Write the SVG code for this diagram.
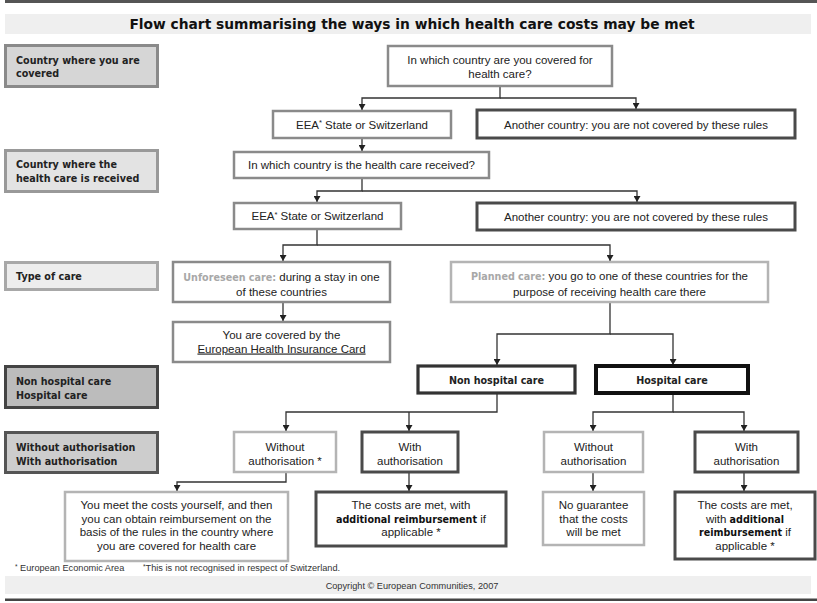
<svg xmlns="http://www.w3.org/2000/svg" width="817" height="603" viewBox="0 0 817 603">
<style>
.t{font-family:"Liberation Sans",Arial,sans-serif;font-size:11.5px;fill:#222;text-anchor:middle}
.b{font-family:"DejaVu Sans",Verdana,sans-serif;font-weight:bold;font-size:9.6px;fill:#222}
.bc{text-anchor:middle}
.bb{font-family:"DejaVu Sans",Verdana,sans-serif;font-weight:bold;font-size:9.6px}
.mid{fill:#fff;stroke:#8a8a8a;stroke-width:2.5}
.dark{fill:#fff;stroke:#4a4a4a;stroke-width:3}
.light{fill:#fff;stroke:#b4b4b4;stroke-width:2.5}
.lab{stroke-width:3}
.conn{fill:none;stroke:#333;stroke-width:1.3;marker-end:url(#ah)}
.fn{font-family:"Liberation Sans",Arial,sans-serif;font-size:9.2px;fill:#333}
.gr{fill:#a8a8a8}
</style>
<defs>
<marker id="ah" markerUnits="userSpaceOnUse" markerWidth="7" markerHeight="7" refX="6" refY="3.5" orient="auto">
<path d="M0,0 L6,3.5 L0,7 z" fill="#222"/>
</marker>
</defs>
<rect width="817" height="603" fill="#fff"/>
<rect x="5" y="0" width="812" height="3" fill="#555"/>
<rect x="5" y="14" width="806" height="20" fill="#efefef"/>
<text x="412" y="29" font-family="DejaVu Sans,Verdana,sans-serif" font-weight="bold" font-size="13.8" fill="#111" text-anchor="middle">Flow chart summarising the ways in which health care costs may be met</text>

<g id="label-covered"><rect class="lab" x="5.5" y="45.5" width="152" height="41" fill="#d6d6d6" stroke="#8a8a8a"/><text class="b" x="16" y="63.5">Country where you are</text><text class="b" x="16" y="77">covered</text></g>
<g id="label-received"><rect class="lab" x="5.5" y="150.5" width="152" height="41" fill="#e3e3e3" stroke="#999"/><text class="b" x="16" y="167.5">Country where the</text><text class="b" x="16" y="182">health care is received</text></g>
<g id="label-type"><rect class="lab" x="5.5" y="262.5" width="152" height="27" fill="#ededed" stroke="#a8a8a8"/><text class="b" x="16" y="279.5">Type of care</text></g>
<g id="label-hosp"><rect class="lab" x="5.5" y="366.5" width="152" height="41" fill="#bcbcbc" stroke="#444"/><text class="b" x="16" y="385">Non hospital care</text><text class="b" x="16" y="399">Hospital care</text></g>
<g id="label-auth"><rect class="lab" x="5.5" y="432.5" width="152" height="40" fill="#cdcdcd" stroke="#555"/><text class="b" x="16" y="450.5">Without authorisation</text><text class="b" x="16" y="464.5">With authorisation</text></g>

<g id="connectors">
<path class="conn" d="M500,86 V98 H362 V110"/>
<path class="conn" d="M500,98 H636 V109"/>
<path class="conn" d="M362,138 V151"/>
<path class="conn" d="M362,178 V191 H317 V202"/>
<path class="conn" d="M362,191 H637 V202"/>
<path class="conn" d="M317,229 V245 H283 V261"/>
<path class="conn" d="M317,245 H610 V261"/>
<path class="conn" d="M283,302 V321"/>
<path class="conn" d="M610,302 V334 H497 V365"/>
<path class="conn" d="M610,334 H673 V365"/>
<path class="conn" d="M497,393 V412 H286 V431"/>
<path class="conn" d="M409,412 V431"/>
<path class="conn" d="M673,393 V412 H593 V431"/>
<path class="conn" d="M673,412 H744 V431"/>
<path class="conn" d="M286,472 V482 H177 V491"/>
<path class="conn" d="M409,472 V491"/>
<path class="conn" d="M593,472 V491"/>
<path class="conn" d="M744,472 V491"/>
</g>

<g id="q1"><rect class="mid" x="388" y="46" width="224" height="40"/><text class="t" x="500" y="64">In which country are you covered for</text><text class="t" x="500" y="78">health care?</text></g>
<g id="eea1"><rect class="mid" x="273" y="111" width="178" height="27"/><text class="t" x="362" y="128.5">EEA<tspan font-size="7.5" dy="-3.5">*</tspan><tspan dy="3.5"> State or Switzerland</tspan></text></g>
<g id="another1"><rect class="dark" x="477" y="110" width="318" height="28"/><text class="t" x="636" y="128.5">Another country: you are not covered by these rules</text></g>
<g id="q2"><rect class="mid" x="234" y="152" width="255" height="26"/><text class="t" x="361.5" y="169">In which country is the health care received?</text></g>
<g id="eea2"><rect class="mid" x="234" y="203" width="167" height="26"/><text class="t" x="317.5" y="220">EEA<tspan font-size="7.5" dy="-3.5">*</tspan><tspan dy="3.5"> State or Switzerland</tspan></text></g>
<g id="another2"><rect class="dark" x="477" y="203" width="318" height="27"/><text class="t" x="636" y="220.5">Another country: you are not covered by these rules</text></g>

<g id="unforeseen"><rect class="mid" x="173" y="262" width="217" height="40" stroke="#999"/><text class="t" x="281.5" y="280.5"><tspan class="bb gr">Unforeseen care:</tspan> during a stay in one</text><text class="t" x="281.5" y="295.5">of these countries</text></g>
<g id="ehic"><rect class="mid" x="173" y="322" width="217" height="40" stroke="#999"/><text class="t" x="281.5" y="338.5">You are covered by the</text><text class="t" x="281.5" y="352.5" fill="#8a8a8a" text-decoration="underline">European Health Insurance Card</text></g>
<g id="planned"><rect class="light" x="451" y="262" width="317" height="40" stroke="#cfcfcf"/><text class="t" x="609.5" y="280"><tspan class="bb gr" fill="#b0b0b0">Planned care:</tspan> you go to one of these countries for the</text><text class="t" x="609.5" y="295.5">purpose of receiving health care there</text></g>

<g id="nonhosp"><rect x="418" y="366" width="157" height="27" fill="#fff" stroke="#333" stroke-width="3.2"/><text class="b bc" x="496.5" y="384">Non hospital care</text></g>
<g id="hosp"><rect x="596" y="366" width="152" height="27" fill="#fff" stroke="#111" stroke-width="4"/><text class="b bc" x="672" y="384">Hospital care</text></g>

<g id="without1"><rect class="light" x="234" y="432" width="102" height="40"/><text class="t" x="285" y="450.5">Without</text><text class="t" x="285" y="464.5">authorisation *</text></g>
<g id="with1"><rect class="dark" x="362" y="432" width="96" height="40"/><text class="t" x="410" y="450.5">With</text><text class="t" x="410" y="464.5">authorisation</text></g>
<g id="without2"><rect class="light" x="544" y="432" width="99" height="40"/><text class="t" x="593.5" y="450.5">Without</text><text class="t" x="593.5" y="464.5">authorisation</text></g>
<g id="with2"><rect class="dark" x="695" y="432" width="103" height="40"/><text class="t" x="746.5" y="450.5">With</text><text class="t" x="746.5" y="464.5">authorisation</text></g>

<g id="youmeet"><rect class="light" x="65" y="492" width="223" height="69"/><text class="t" x="176.5" y="509">You meet the costs yourself, and then</text><text class="t" x="176.5" y="522.5">you can obtain reimbursement on the</text><text class="t" x="176.5" y="536">basis of the rules in the country where</text><text class="t" x="176.5" y="549.5">you are covered for health care</text></g>
<g id="costs1"><rect class="dark" x="316" y="492" width="190" height="54"/><text class="t" x="411" y="509">The costs are met, with</text><text class="t" x="411" y="522.5"><tspan class="bb" fill="#111">additional reimbursement</tspan> if</text><text class="t" x="411" y="536">applicable *</text></g>
<g id="noguarantee"><rect class="light" x="543" y="492" width="101" height="53"/><text class="t" x="593.5" y="509">No guarantee</text><text class="t" x="593.5" y="522.5">that the costs</text><text class="t" x="593.5" y="536">will be met</text></g>
<g id="costs2"><rect class="dark" x="675" y="492" width="140" height="67"/><text class="t" x="745" y="509">The costs are met,</text><text class="t" x="745" y="522.5">with <tspan class="bb" fill="#111">additional</tspan></text><text class="t" x="745" y="536"><tspan class="bb" fill="#111">reimbursement</tspan> if</text><text class="t" x="745" y="549.5">applicable *</text></g>

<text class="fn" x="15" y="571"><tspan font-size="6.5" dy="-2.5">*</tspan><tspan dy="2.5"> European Economic Area</tspan></text>
<text class="fn" x="143" y="571"><tspan font-size="6.5" dy="-2.5">*</tspan><tspan dy="2.5">This is not recognised in respect of Switzerland.</tspan></text>
<rect x="5" y="576" width="806" height="18" fill="#efefef"/>
<text class="fn" x="412" y="589" text-anchor="middle">Copyright © European Communities, 2007</text>
<rect x="5" y="598.5" width="812" height="2.5" fill="#444"/>
</svg>
